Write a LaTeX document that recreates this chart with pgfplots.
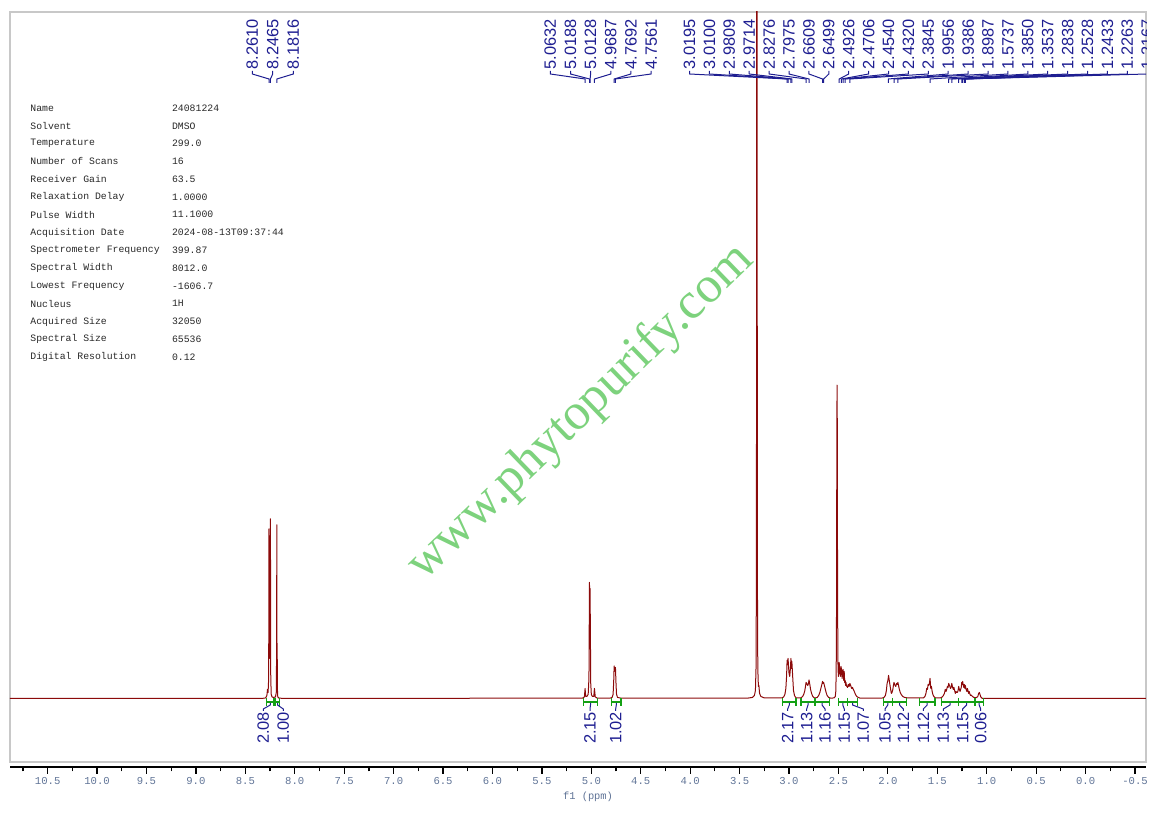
\documentclass[border=0pt]{standalone}
\usepackage{pgfplots}
\pgfplotsset{compat=1.18}
\usepackage{fontspec}
\setmainfont{Liberation Sans}
\setmonofont{Liberation Mono}
\newfontfamily\wmfont{Liberation Serif}
\definecolor{spec}{RGB}{140,10,10}
\definecolor{lab}{RGB}{30,30,145}
\definecolor{integ}{RGB}{20,160,20}
\definecolor{tickc}{RGB}{95,115,150}
\definecolor{wm}{RGB}{125,210,125}
\definecolor{infoc}{RGB}{40,40,40}
\definecolor{framec}{RGB}{200,200,200}
\newcommand\labfont{\fontsize{8.2}{8.2}\selectfont}
\newcommand\infofont{\ttfamily\fontsize{4.9}{4.9}\selectfont}
\begin{document}
\begin{tikzpicture}
\useasboundingbox (0,0) rectangle (579pt,407pt);
\begin{scope}[x=0.5pt,y=-0.5pt,shift={(0,407pt)}]
  \node[rotate=44, text=wm, font=\wmfont\fontsize{25.6}{25.6}\selectfont, inner sep=0pt] at (581,413) {www.phytopurify.com};
  \draw[framec, line width=0.7pt] (10,12) rectangle (1146,762);
\end{scope}

\begin{axis}[at={(5pt,26pt)}, anchor=south west, width=568pt, height=375pt, scale only axis,
  xmin=-0.611, xmax=10.881, ymin=-63.5, ymax=685.8, x dir=reverse, hide axis, clip=true]
\addplot[spec, line width=0.5pt, line join=round, mark=none] coordinates {
(-0.611,0) (1.000,0)
(1.045,0) (1.060,1.5) (1.068,4) (1.075,6) (1.082,5) (1.090,2) (1.105,0.8)
(1.130,1) (1.145,2) (1.158,3.5) (1.165,3) (1.172,5) (1.178,7) (1.184,5) (1.190,8) (1.196,10) (1.202,7) (1.209,9) (1.2167,13) (1.221,10) (1.2263,14) (1.232,11) (1.238,13) (1.2433,17) (1.248,14) (1.2528,16) (1.258,11) (1.264,9) (1.270,7) (1.277,9) (1.2838,12) (1.290,8) (1.296,6)
(1.304,6) (1.311,7) (1.318,5) (1.325,8) (1.332,11) (1.338,9) (1.345,11) (1.3537,15) (1.360,11) (1.367,10) (1.373,12) (1.3850,15) (1.391,11) (1.398,12) (1.405,9) (1.412,7) (1.420,9) (1.428,5) (1.438,3) (1.450,1.5) (1.470,0.5)
(1.520,0.5) (1.535,2) (1.545,4) (1.552,7) (1.560,12) (1.566,10) (1.5737,20) (1.580,15) (1.586,13) (1.593,14) (1.600,9) (1.607,10) (1.615,5) (1.625,2) (1.640,0.5)
(1.800,0.5) (1.830,1) (1.850,2) (1.865,4) (1.875,6) (1.884,9) (1.8987,16) (1.905,14) (1.912,15) (1.920,12) (1.928,13) (1.9386,16) (1.944,13) (1.950,9) (1.958,6)
(1.965,5) (1.972,9) (1.980,14) (1.993,23) (2.000,18) (2.008,15) (2.015,8) (2.025,3) (2.040,1) (2.060,0.3)
(2.280,0.3) (2.300,1) (2.315,2) (2.328,4) (2.340,7) (2.350,9) (2.358,11) (2.366,10) (2.3845,15) (2.392,12) (2.400,14) (2.408,11) (2.415,12)
(2.420,13) (2.424,16) (2.428,13) (2.4320,18) (2.437,16) (2.442,27) (2.447,18) (2.4540,29) (2.458,27) (2.463,20) (2.4706,30) (2.475,32) (2.480,22) (2.486,25) (2.4926,36) (2.497,28)
(2.501,22) (2.505,35) (2.509,98) (2.5115,265) (2.514,313) (2.5165,265) (2.519,98) (2.522,40) (2.526,8) (2.532,2) (2.545,0.5)
(2.580,0.3) (2.600,1) (2.615,3) (2.625,6) (2.635,10) (2.6499,16) (2.655,15) (2.6609,17) (2.668,14) (2.678,10) (2.688,6) (2.700,3) (2.715,1) (2.735,0.5)
(2.745,0.5) (2.760,2) (2.772,5) (2.782,9) (2.790,14) (2.7975,18.5) (2.804,15) (2.810,13) (2.818,14) (2.8276,16) (2.835,11) (2.842,7) (2.852,4) (2.862,2) (2.880,0.5)
(2.930,0.5) (2.945,3) (2.955,8) (2.962,20) (2.9714,37) (2.976,30) (2.9809,40) (2.986,30) (2.993,22) (3.000,25) (3.005,32) (3.0100,40) (3.015,34) (3.0195,38) (3.025,22) (3.032,10) (3.042,4) (3.055,1.5) (3.070,0.5)
(3.250,0.5) (3.285,2) (3.298,5) (3.305,13) (3.310,12) (3.316,30) (3.320,120) (3.323,600) (3.325,2500) (3.327,600) (3.330,120) (3.334,30) (3.340,8) (3.350,3) (3.370,1) (3.420,0.3)
(4.700,0.3) (4.735,1) (4.745,4) (4.750,14) (4.7561,31) (4.760,27) (4.764,28) (4.7692,32.5) (4.774,16) (4.780,4) (4.790,1) (4.810,0.3)
(4.940,0.3) (4.960,1.5) (4.9687,10) (4.975,2) (4.990,2) (5.000,4) (5.006,15) (5.0128,110) (5.0158,80) (5.0188,116) (5.024,20) (5.032,4) (5.045,2) (5.057,2) (5.0632,10) (5.070,1.5) (5.090,0.3)
(8.100,0) (8.160,0.3) (8.172,1.5) (8.175,8) (8.1785,55) (8.1800,50) (8.1816,173.5) (8.1835,50) (8.187,6) (8.195,1.5) (8.215,1)
(8.230,1.5) (8.238,4) (8.243,20) (8.2465,179.5) (8.250,50) (8.2535,40) (8.257,50) (8.2610,169.5) (8.264,20) (8.270,6) (8.276,9) (8.282,3) (8.295,0.5) (8.330,0)
(10.881,0)
};
% integration brackets
\pgfplotsset{brk/.style={integ, line width=0.6pt, mark=|, mark size=2pt, mark options={solid, line width=0.6pt}}}
\addplot[brk] coordinates {(8.2845,-3.5) (8.2107,-3.5)};
\addplot[brk] coordinates {(8.193,-3.5) (8.157,-3.5)};
\addplot[brk] coordinates {(5.078,-3.5) (4.936,-3.5)};
\addplot[brk] coordinates {(4.794,-3.5) (4.700,-3.5)};
\addplot[brk] coordinates {(3.065,-3.5) (2.930,-3.5)};
\addplot[brk] coordinates {(2.879,-3.5) (2.738,-3.5)};
\addplot[brk] coordinates {(2.738,-3.5) (2.593,-3.5)};
\addplot[brk] coordinates {(2.502,-3.5) (2.411,-3.5)};
\addplot[brk] coordinates {(2.411,-3.5) (2.305,-3.5)};
\addplot[brk] coordinates {(2.047,-3.5) (1.956,-3.5)};
\addplot[brk] coordinates {(1.956,-3.5) (1.810,-3.5)};
\addplot[brk] coordinates {(1.683,-3.5) (1.524,-3.5)};
\addplot[brk] coordinates {(1.456,-3.5) (1.288,-3.5)};
\addplot[brk] coordinates {(1.288,-3.5) (1.119,-3.5)};
\addplot[brk] coordinates {(1.119,-3.5) (1.035,-3.5)};
\end{axis}

\begin{axis}[at={(5pt,23.5pt)}, anchor=south west, width=568pt, height=1pt, scale only axis,
  xmin=-0.611, xmax=10.881, ymin=0, ymax=1, x dir=reverse,
  axis y line=none, axis x line=bottom, x axis line style={-, black, line width=0.7pt},
  tick align=outside, major tick length=3.5pt, minor tick length=2.2pt,
  tick style={black, line width=0.6pt},
  xtick={-0.5,0,0.5,...,10.5}, minor xtick={-0.25,0.25,...,10.75},
  xticklabel={\pgfmathprintnumber[fixed,fixed zerofill,precision=1,assume math mode=true]{\tick}},
  xticklabel style={font=\ttfamily\fontsize{5.3}{5.3}\selectfont, text=tickc, anchor=center, yshift=-3.65pt}]
\end{axis}

\begin{scope}[x=0.5pt,y=-0.5pt,shift={(0,407pt)}]
  \fill[white] (1147,764) rectangle (1162,816);
  \node[font=\ttfamily\fontsize{5.2}{5.2}\selectfont, text=tickc, inner sep=0pt] at (588,797) {f1 (ppm)};
  % info block
  \foreach \i/\n/\v in {0/Name/24081224, 1/Solvent/DMSO, 2/Temperature/299.0, 3/Number of Scans/16,
     4/Receiver Gain/63.5, 5/Relaxation Delay/1.0000, 6/Pulse Width/11.1000,
     7/Acquisition Date/2024-08-13T09:37:44, 8/Spectrometer Frequency/399.87,
     9/Spectral Width/8012.0, 10/Lowest Frequency/-1606.7, 11/Nucleus/1H,
     12/Acquired Size/32050, 13/Spectral Size/65536, 14/Digital Resolution/0.12} {
    \node[anchor=west, inner sep=0pt, text=infoc, font=\infofont] at (30,108+17.79*\i) {\n};
    \node[anchor=west, inner sep=0pt, text=infoc, font=\infofont] at (171.7,108+17.79*\i) {\v};
  }
  % integration labels
  \foreach \xc/\xl/\t in {270.3/263.3/2.08, 277.5/283.3/1.00, 590.5/590/2.15, 616.3/615.7/1.02,
     789.3/787.7/2.17, 808/806.7/1.13, 822/825/1.16, 842.8/844.3/1.15, 852.5/863.3/1.07,
     887.8/885/1.05, 899.5/903.3/1.12, 927.2/923.3/1.12, 950/943.3/1.13, 966.7/962.7/1.15, 979.2/980.7/0.06} {
    \draw[lab, line width=0.5pt] (\xc,703) -- (\xc,705) -- (\xl,709) -- (\xl,711);
    \node[rotate=90, anchor=east, inner sep=0pt, text=lab, font=\labfont] at (\xl,711.5) {\t};
  }
  % peak labels
  \begin{scope}
  \clip (10,12) rectangle (1146,762);
  \foreach \xl/\p in {252.3/8.2610, 272.7/8.2465, 293.3/8.1816,
     550.3/5.0632, 570.5/5.0188, 590.6/5.0128, 610.8/4.9687, 630.9/4.7692, 651.1/4.7561,
     689.5/3.0195, 709.4/3.0100, 729.3/2.9809, 749.2/2.9714, 769.1/2.8276, 789.0/2.7975,
     808.9/2.6609, 828.8/2.6499, 848.7/2.4926, 868.6/2.4706, 888.5/2.4540, 908.4/2.4320,
     928.3/2.3845, 948.2/1.9956, 968.1/1.9386, 988.0/1.8987, 1007.9/1.5737, 1027.8/1.3850,
     1047.7/1.3537, 1067.6/1.2838, 1087.5/1.2528, 1107.4/1.2433, 1127.3/1.2263, 1147.2/1.2167} {
    \pgfmathsetmacro\xp{47.7+(10.5-\p)*98.85}
    \draw[lab, line width=0.5pt] (\xl,71) -- (\xl,74) -- (\xp,79) -- (\xp,83);
    \node[rotate=90, anchor=west, inner sep=0pt, text=lab, font=\labfont] at (\xl,70) {\p};
  }
  \end{scope}
\end{scope}
\end{tikzpicture}
\end{document}
